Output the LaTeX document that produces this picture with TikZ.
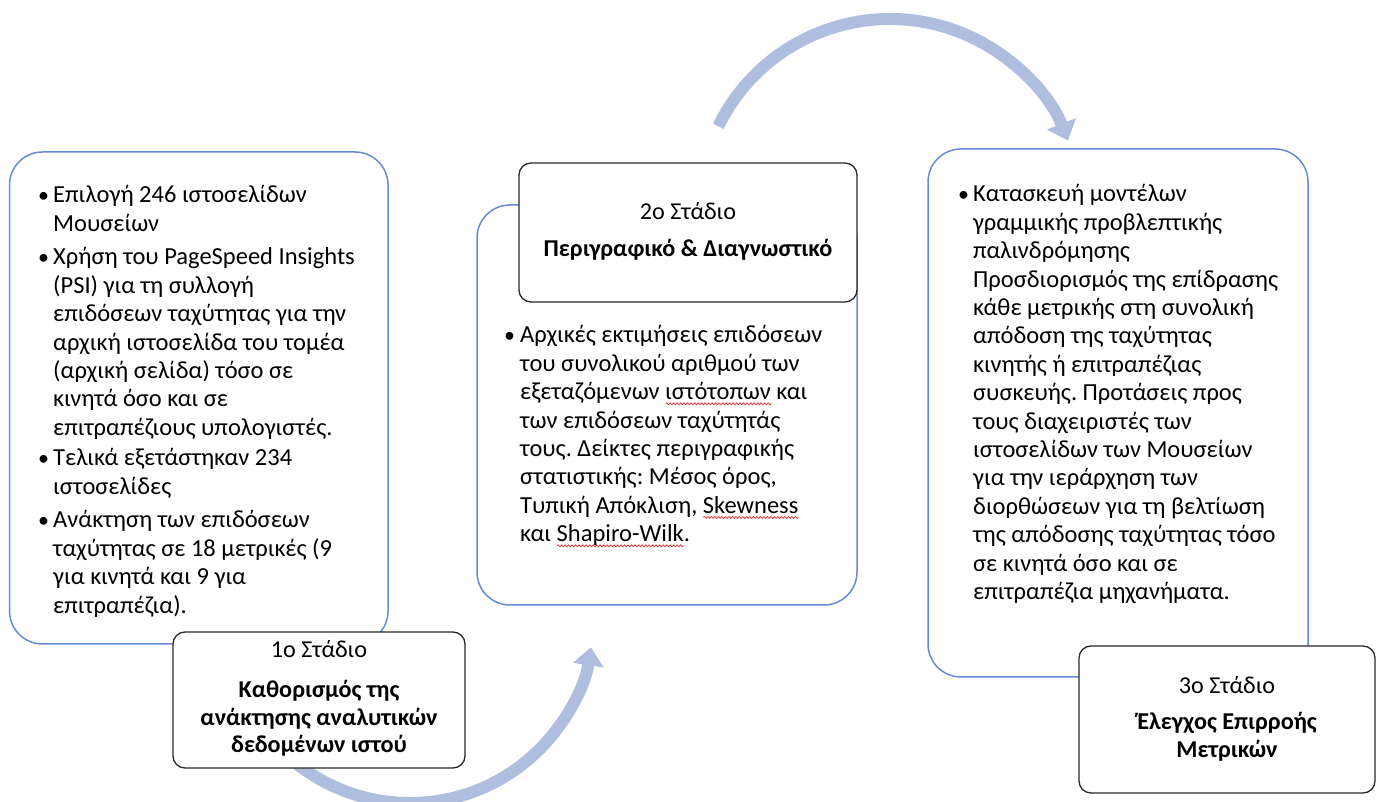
\documentclass[tikz,border=0pt]{standalone}
\usepackage{fontspec}
\setmainfont{Carlito}
\usetikzlibrary{arrows.meta,decorations.pathmorphing}
\definecolor{boxblue}{RGB}{102,140,214}
\definecolor{arcblue}{RGB}{175,189,223}
\definecolor{edgegrey}{RGB}{40,40,40}
\definecolor{squig}{RGB}{225,45,45}
\newsavebox\wavebox
\newdimen\wavew
\newcommand\redwave[1]{\sbox\wavebox{#1}\wavew=\wd\wavebox\rlap{\tikz[baseline=0pt]\draw[squig, line width=0.7pt, decorate, decoration={snake, amplitude=1pt, segment length=3.5pt}] (0pt,-4pt) -- (\the\wavew,-4pt);}\usebox\wavebox}
\newcommand\mlL[1]{\vtop{\halign{##\hfil\cr#1\crcr}}}
\newcommand\mlC[1]{\vtop{\halign{\hfil##\hfil\cr#1\crcr}}}
\frenchspacing
\begin{document}
\begin{tikzpicture}[x=1pt,y=1pt,
  bigbox/.style={draw=boxblue, line width=1.5pt, fill=white, rounded corners=33pt, inner sep=0pt},
  labelbox/.style={draw=edgegrey, line width=1.3pt, fill=white, rounded corners=12pt, inner sep=0pt},
  body/.style={font=\fontsize{24.5}{28.4}\selectfont\frenchspacing, anchor=base west, inner sep=0pt, text=black},
  dot/.style={font=\fontsize{22}{28.4}\selectfont, anchor=base west, inner sep=0pt, text=black},
  lbltxt/.style={font=\fontsize{24.2}{27.5}\selectfont, anchor=base, inner sep=0pt, text=black},
  lblbold/.style={font=\fontsize{24.2}{27.5}\selectfont\bfseries, anchor=base, inner sep=0pt, text=black},
  arcarrow/.style={draw=arcblue, line width=12pt, -{Triangle[width=30pt,length=18pt]}}
]
\useasboundingbox (0,0) rectangle (1381,802);
\fill[white] (0,0) rectangle (1381,802);

% curved arrows
\coordinate (topc) at (890,592);
\coordinate (botc) at (410,182);
\draw[arcarrow] ([shift={(154:191)}]topc) arc[start angle=154, end angle=21.3, radius=191];
\draw[arcarrow] ([shift={(-135:183)}]botc) arc[start angle=-135, end angle=-8.6, radius=183];

% big boxes
\node[bigbox, minimum width=378.5pt, minimum height=492pt] (boxA) at (198.75,404) {};
\node[bigbox, minimum width=380pt, minimum height=400pt] (boxB) at (667,397) {};
\node[bigbox, minimum width=380pt, minimum height=528pt] (boxC) at (1118,389) {};

% label boxes
\node[labelbox, minimum width=292pt, minimum height=136pt] (lab1) at (319,102) {};
\node[labelbox, minimum width=338pt, minimum height=139pt] (lab2) at (688,569.5) {};
\node[labelbox, minimum width=296pt, minimum height=147pt] (lab3) at (1227,82.5) {};

% left box text
\node[dot] (a1d) at (38,599) {•};
\node[body] (a1) at (53,599) {\mlL{Επιλογή 246 ιστοσελίδων\cr
Μουσείων}};
\node[dot] (a2d) at (38,537) {•};
\node[body] (a2) at (53,537) {\mlL{Χρήση του PageSpeed Insights\cr
(PSI) για τη συλλογή\cr
επιδόσεων ταχύτητας για την\cr
αρχική ιστοσελίδα του τομέα\cr
(αρχική σελίδα) τόσο σε\cr
κινητά όσο και σε\cr
επιτραπέζιους υπολογιστές.}};
\node[dot] (a3d) at (38,336) {•};
\node[body] (a3) at (53,336) {\mlL{Τελικά εξετάστηκαν 234\cr
ιστοσελίδες}};
\node[dot] (a4d) at (38,274) {•};
\node[body] (a4) at (53,274) {\mlL{Ανάκτηση των επιδόσεων\cr
ταχύτητας σε 18 μετρικές (9\cr
για κινητά και 9 για\cr
επιτραπέζια).}};

% middle box text
\node[dot] (b1d) at (504,459) {•};
\node[body] (b1) at (520,459) {\mlL{Αρχικές εκτιμήσεις επιδόσεων\cr
του συνολικού αριθμού των\cr
εξεταζόμενων \redwave{ιστότοπων} και\cr
των επιδόσεων ταχύτητάς\cr
τους. Δείκτες περιγραφικής\cr
στατιστικής: Μέσος όρος,\cr
Τυπική Απόκλιση, \redwave{Skewness}\cr
και \redwave{Shapiro-Wilk}.}};

% right box text
\node[dot] (c1d) at (958,600) {•};
\node[body] (c1) at (973,600) {\mlL{Κατασκευή μοντέλων\cr
γραμμικής προβλεπτικής\cr
παλινδρόμησης\cr
Προσδιορισμός της επίδρασης\cr
κάθε μετρικής στη συνολική\cr
απόδοση της ταχύτητας\cr
κινητής ή επιτραπέζιας\cr
συσκευής. Προτάσεις προς\cr
τους διαχειριστές των\cr
ιστοσελίδων των Μουσείων\cr
για την ιεράρχηση των\cr
διορθώσεων για τη βελτίωση\cr
της απόδοσης ταχύτητας τόσο\cr
σε κινητά όσο και σε\cr
επιτραπέζια μηχανήματα.}};

% labels
\node[lbltxt] (l1a) at (319,144) {1ο Στάδιο};
\node[lblbold] (l1b) at (319,104) {\mlC{Καθορισμός της\cr
ανάκτησης αναλυτικών\cr
δεδομένων ιστού}};
\node[lbltxt] (l2a) at (688,582) {2ο Στάδιο};
\node[lblbold] (l2b) at (688,545) {Περιγραφικό \& Διαγνωστικό};
\node[lbltxt] (l3a) at (1227,108) {3ο Στάδιο};
\node[lblbold] (l3b) at (1227,72) {\mlC{Έλεγχος Επιρροής\cr
Μετρικών}};
\end{tikzpicture}
\end{document}
